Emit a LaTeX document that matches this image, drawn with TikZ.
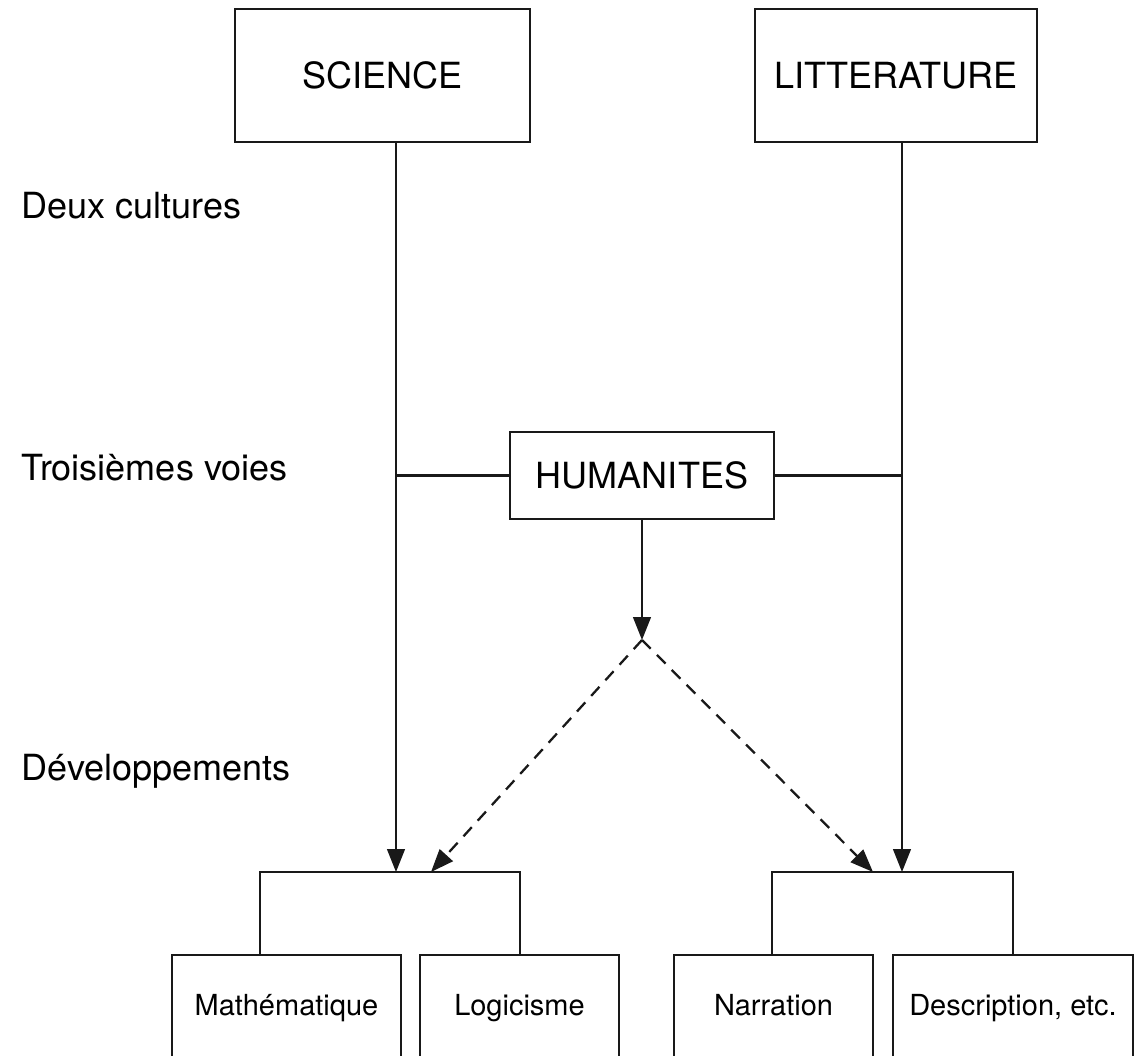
\documentclass[tikz,border=0pt]{standalone}
\usepackage{fontspec}
\setmainfont{TeX Gyre Heros}
\usepackage{tikz}
\usetikzlibrary{positioning,calc}
\usetikzlibrary{arrows.meta}
\definecolor{Trait}{RGB}{25,25,25}
\tikzset{
	bloc/.style={draw=Trait,line width=1.3pt,fill=white,inner sep=4pt,
		font=\fontsize{20.5}{24}\selectfont},
	feuille/.style={bloc,minimum height=2.12cm,text height=12pt,text depth=4pt,
		font=\fontsize{16.5}{20}\selectfont},
	niveau/.style={anchor=west,inner sep=0pt,font=\fontsize{20.5}{24}\selectfont},
	lien/.style={draw=Trait,line width=1.3pt},
	fleche/.style={lien,-{Triangle[length=13pt,width=10pt]}},
	pointille/.style={dash pattern=on 7pt off 5pt},
}

\begin{document}
\begin{tikzpicture}[x=0.02cm,y=-0.02cm]
					\useasboundingbox (0,0) rectangle (1144,1056);
					\clip (0,0) rectangle (1144,1056);
					% les deux cultures
					\node[bloc,minimum width=5.9cm,minimum height=2.66cm] (sci) at (382.5,75.5) {SCIENCE};
					\node[bloc,minimum width=5.64cm,minimum height=2.66cm] (lit) at (896,75.5) {LITTERATURE};
					\node[bloc,minimum width=5.28cm,minimum height=1.74cm] (hum) at (642,475.5) {HUMANITES};
					% developpements
					\node[feuille,minimum width=4.58cm] (math) at (286.5,1008) {Mathématique};
					\node[feuille,minimum width=3.98cm] (logi) at (519.5,1008) {Logicisme};
					\node[feuille,minimum width=3.98cm] (narr) at (773.5,1008) {Narration};
					\node[feuille,minimum width=4.8cm] (desc) at (1013,1008) {Description, etc.};
					% niveaux
					\foreach \nom/\y/\txt in {deux/206/Deux cultures,trois/468/Troisièmes voies,dev/771/Développements}
					\node[niveau] (\nom) at (21,\y) {\txt};
					% accolades du bas
					\coordinate (gl) at (260,872);
					\coordinate (gr) at (520,872);
					\coordinate (dl) at (772,872);
					\coordinate (dr) at (1013,872);
					\draw[lien] (math.north -| gl) -- (gl) -- (gr) -- (logi.north -| gr);
					\draw[lien] (narr.north -| dl) -- (dl) -- (dr) -- (desc.north -| dr);
					% fleches
					\coordinate (gs) at (396,872);
					\coordinate (ds) at (902,872);
					\coordinate (gh) at (431,872);
					\coordinate (dh) at (873,872);
					\coordinate (piv) at (642,640);
					\draw[fleche] (sci.south -| gs) -- (gs);
					\draw[fleche] (lit.south -| ds) -- (ds);
					\draw[lien] (hum.west) -- (hum.west -| gs);
					\draw[lien] (hum.east) -- (hum.east -| ds);
					\draw[fleche] (hum.south) -- (piv);
					\foreach \cible in {gh,dh}
					\draw[fleche,pointille] (piv) -- (\cible);
				\end{tikzpicture}
\end{document}
